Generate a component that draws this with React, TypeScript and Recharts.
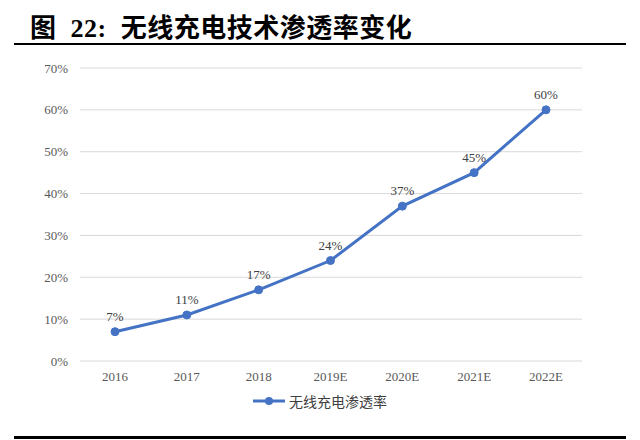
import { CartesianGrid, LabelList, Legend, Line, LineChart, XAxis, YAxis } from "recharts";

const years = ["2016", "2017", "2018", "2019E", "2020E", "2021E", "2022E"];
const penetration = [7, 11, 17, 24, 37, 45, 60];
const yTicks = [0, 10, 20, 30, 40, 50, 60, 70];

const data = years.map((year, i) => ({ year, rate: penetration[i] }));

const LINE_COLOR = "#4472C4";
const TEXT_COLOR = "#595959";
const FONT = "'Liberation Serif', 'Noto Sans CJK SC', serif";

function LegendBox({ payload }: any) {
  return (
    <div style={{ display: "flex", justifyContent: "center", alignItems: "center" }}>
      {(payload || []).map((entry: any) => (
        <div key={entry.value} style={{ display: "flex", alignItems: "center" }}>
          <svg width={32} height={12} style={{ marginRight: 4 }}>
            <line x1={0} y1={6} x2={32} y2={6} stroke={LINE_COLOR} strokeWidth={3} />
            <circle cx={16} cy={6} r={4} fill={LINE_COLOR} />
          </svg>
          <span style={{ fontFamily: "'Noto Sans CJK SC', sans-serif", fontSize: 14, color: "#404040" }}>
            {entry.value}
          </span>
        </div>
      ))}
    </div>
  );
}

export default function App() {
  return (
    <div style={{ position: "absolute", left: 0, top: 0, width: 640, height: 440, background: "#fff", overflow: "hidden" }}>
      <div
        style={{
          position: "absolute",
          left: 30,
          top: 7,
          fontFamily: FONT,
          fontWeight: 700,
          fontSize: 26,
          letterSpacing: 0.5,
          color: "#000",
          whiteSpace: "pre",
        }}
      >
        {"图  22:  无线充电技术渗透率变化"}
      </div>
      <div style={{ position: "absolute", left: 14, top: 43, width: 612, height: 2, background: "#000" }} />
      <div style={{ position: "absolute", left: 14, top: 436, width: 612, height: 3, background: "#000" }} />
      <div style={{ position: "absolute", left: 0, top: 50 }}>
        <LineChart width={640} height={385} data={data} margin={{ top: 18, right: 58, bottom: 14, left: 20 }}>
          <CartesianGrid vertical={false} stroke="#d9d9d9" />
          <XAxis
            dataKey="year"
            axisLine={false}
            tickLine={false}
            height={30}
            tickMargin={5}
            padding={{ left: 35, right: 36 }}
            tick={{ fill: TEXT_COLOR, fontSize: 13, fontFamily: FONT }}
          />
          <YAxis
            domain={[0, 70]}
            ticks={yTicks}
            axisLine={false}
            tickLine={false}
            width={60}
            tickMargin={6}
            tickFormatter={(v) => `${v}%`}
            tick={{ fill: TEXT_COLOR, fontSize: 13, fontFamily: FONT }}
          />
          <Legend
            verticalAlign="bottom"
            height={30}
            wrapperStyle={{ left: 0, width: 640 }}
            content={<LegendBox />}
          />
          <Line
            name="无线充电渗透率"
            dataKey="rate"
            stroke={LINE_COLOR}
            strokeWidth={3}
            dot={{ r: 4, fill: LINE_COLOR, stroke: LINE_COLOR, strokeWidth: 1 }}
            isAnimationActive={false}
          >
            <LabelList
              dataKey="rate"
              position="top"
              offset={11}
              formatter={(v) => `${v}%`}
              style={{ fill: "#404040", fontSize: 13, fontFamily: FONT }}
            />
          </Line>
        </LineChart>
      </div>
    </div>
  );
}
